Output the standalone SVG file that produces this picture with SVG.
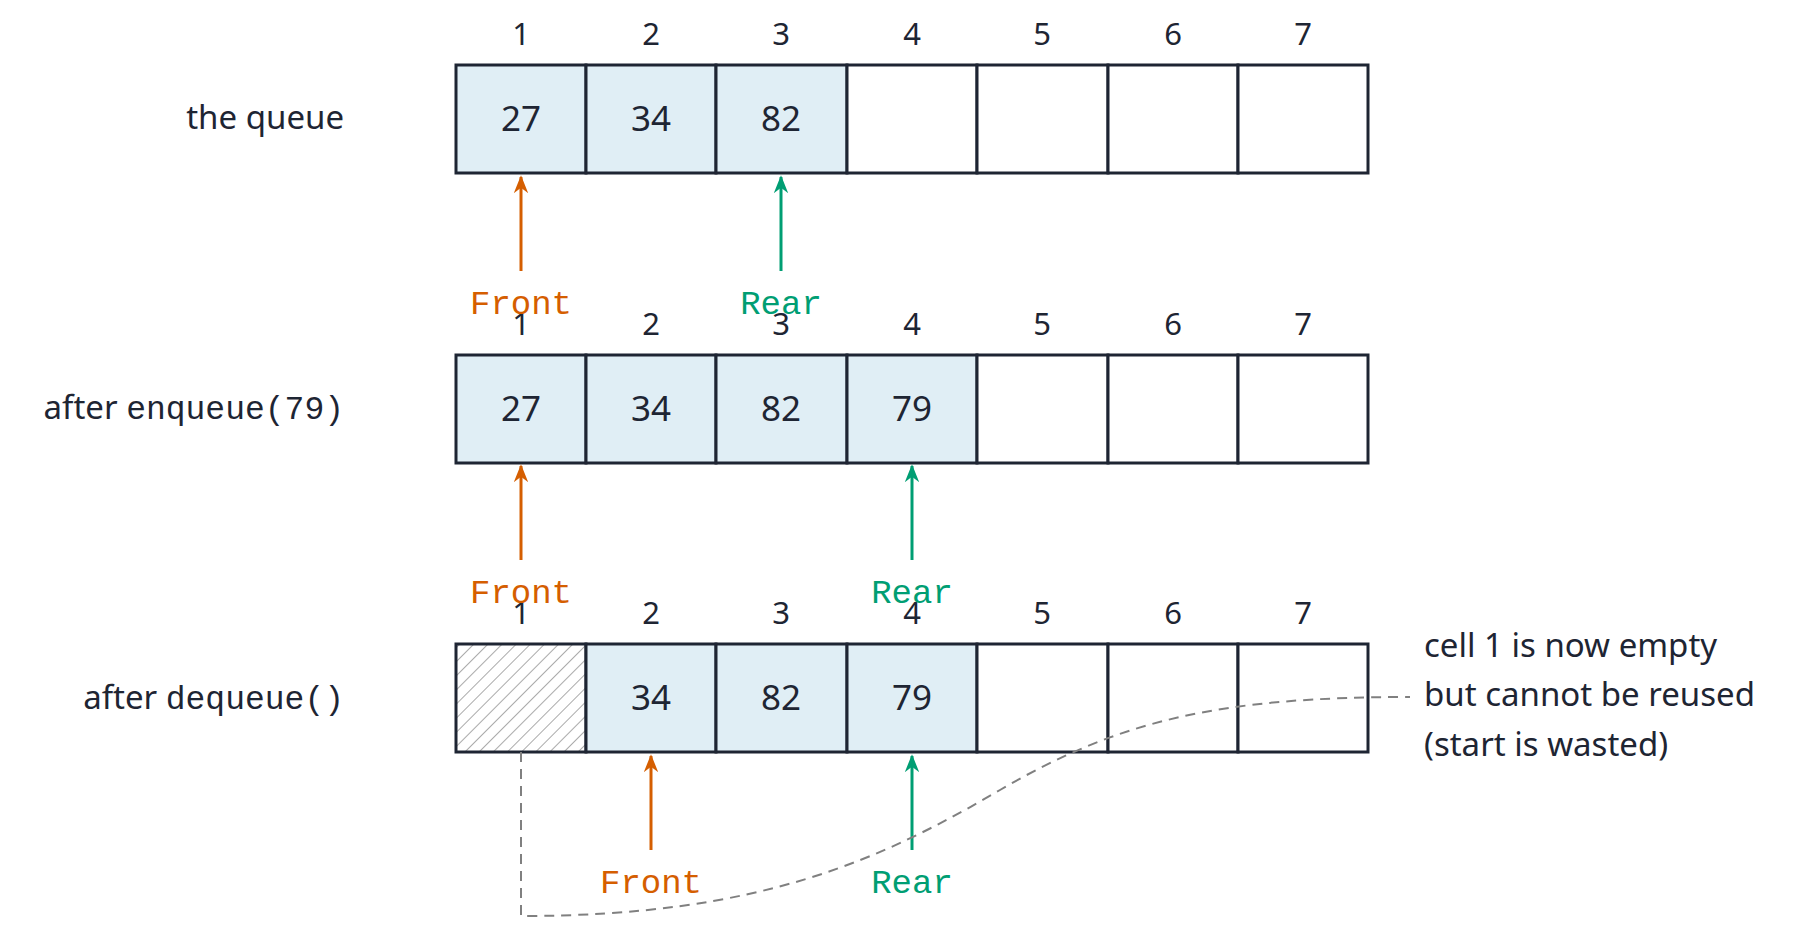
<svg xmlns="http://www.w3.org/2000/svg" width="1800" height="926" viewBox="0 0 1800 926">
<style>
.c{fill:#fff;stroke:#1e2533;stroke-width:3}
.f{fill:#e0eef5}
.t{font-family:"Noto Sans","Liberation Sans",sans-serif;fill:#1e2533}
.v{font-size:35px;text-anchor:middle}
.i{font-size:31px;text-anchor:middle}
.l{font-size:33px;text-anchor:end}
.m{font-family:"Liberation Mono","Courier New",monospace}
.mo{font-family:"Liberation Mono","Courier New",monospace;font-size:34px;text-anchor:middle}
.o{stroke:#d55e00;stroke-width:3;fill:none}
.g{stroke:#009e73;stroke-width:3;fill:none}
</style>
<defs>
<pattern id="h" width="10" height="10" patternUnits="userSpaceOnUse" patternTransform="rotate(45)"><rect width="10" height="10" fill="#fff"/><line x1="0" y1="0" x2="0" y2="10" stroke="#aaa" stroke-width="2"/></pattern>
<marker id="ao" viewBox="0 0 10 10" refX="9" refY="5" markerWidth="6" markerHeight="6" orient="auto"><path d="M0,1 L10,5 L0,9 L3,5z" fill="#d55e00"/></marker>
<marker id="ag" viewBox="0 0 10 10" refX="9" refY="5" markerWidth="6" markerHeight="6" orient="auto"><path d="M0,1 L10,5 L0,9 L3,5z" fill="#009e73"/></marker>
</defs>
<g id="row1">
<text class="t l" x="344" y="129">the queue</text>
<rect class="c f" x="456" y="65" width="130" height="108"/><rect class="c f" x="586" y="65" width="130" height="108"/><rect class="c f" x="716" y="65" width="131" height="108"/><rect class="c" x="847" y="65" width="130" height="108"/><rect class="c" x="977" y="65" width="131" height="108"/><rect class="c" x="1108" y="65" width="130" height="108"/><rect class="c" x="1238" y="65" width="130" height="108"/>
<g class="t i"><text x="521" y="45">1</text><text x="651" y="45">2</text><text x="781" y="45">3</text><text x="912" y="45">4</text><text x="1042" y="45">5</text><text x="1173" y="45">6</text><text x="1303" y="45">7</text></g>
<g class="t v"><text x="521" y="131">27</text><text x="651" y="131">34</text><text x="781" y="131">82</text></g>
</g>
<g id="row2">
<text class="t l" x="344" y="419">after <tspan class="m">enqueue(79)</tspan></text>
<rect class="c f" x="456" y="355" width="130" height="108"/><rect class="c f" x="586" y="355" width="130" height="108"/><rect class="c f" x="716" y="355" width="131" height="108"/><rect class="c f" x="847" y="355" width="130" height="108"/><rect class="c" x="977" y="355" width="131" height="108"/><rect class="c" x="1108" y="355" width="130" height="108"/><rect class="c" x="1238" y="355" width="130" height="108"/>
<g class="t i"><text x="521" y="335">1</text><text x="651" y="335">2</text><text x="781" y="335">3</text><text x="912" y="335">4</text><text x="1042" y="335">5</text><text x="1173" y="335">6</text><text x="1303" y="335">7</text></g>
<g class="t v"><text x="521" y="421">27</text><text x="651" y="421">34</text><text x="781" y="421">82</text><text x="912" y="421">79</text></g>
</g>
<g id="row3">
<text class="t l" x="344" y="709">after <tspan class="m">dequeue()</tspan></text>
<rect class="c" x="456" y="644" width="130" height="108" style="fill:url(#h)"/><rect class="c f" x="586" y="644" width="130" height="108"/><rect class="c f" x="716" y="644" width="131" height="108"/><rect class="c f" x="847" y="644" width="130" height="108"/><rect class="c" x="977" y="644" width="131" height="108"/><rect class="c" x="1108" y="644" width="130" height="108"/><rect class="c" x="1238" y="644" width="130" height="108"/>
<g class="t i"><text x="521" y="624">1</text><text x="651" y="624">2</text><text x="781" y="624">3</text><text x="912" y="624">4</text><text x="1042" y="624">5</text><text x="1173" y="624">6</text><text x="1303" y="624">7</text></g>
<g class="t v"><text x="651" y="710">34</text><text x="781" y="710">82</text><text x="912" y="710">79</text></g>
</g>
<g id="connectors">
<line class="o" x1="521" y1="271" x2="521" y2="177" marker-end="url(#ao)"/>
<line class="g" x1="781" y1="271" x2="781" y2="177" marker-end="url(#ag)"/>
<line class="o" x1="521" y1="560" x2="521" y2="466" marker-end="url(#ao)"/>
<line class="g" x1="912" y1="560" x2="912" y2="466" marker-end="url(#ag)"/>
<line class="o" x1="651" y1="850" x2="651" y2="756" marker-end="url(#ao)"/>
<line class="g" x1="912" y1="850" x2="912" y2="756" marker-end="url(#ag)"/>
<path d="M521,752 L521,916 C760,916 880,860 1000,790 C1120,720 1220,697 1410,697" fill="none" stroke="#808080" stroke-width="2" stroke-dasharray="10,7"/>
</g>
<g id="labels">
<text class="mo" x="521" y="314" fill="#d55e00">Front</text>
<text class="mo" x="781" y="314" fill="#009e73">Rear</text>
<text class="mo" x="521" y="603" fill="#d55e00">Front</text>
<text class="mo" x="912" y="603" fill="#009e73">Rear</text>
<text class="mo" x="651" y="893" fill="#d55e00">Front</text>
<text class="mo" x="912" y="893" fill="#009e73">Rear</text>
</g>
<g id="note" class="t" font-size="33">
<text x="1424" y="657">cell 1 is now empty</text>
<text x="1424" y="706">but cannot be reused</text>
<text x="1424" y="756">(start is wasted)</text>
</g>
</svg>
